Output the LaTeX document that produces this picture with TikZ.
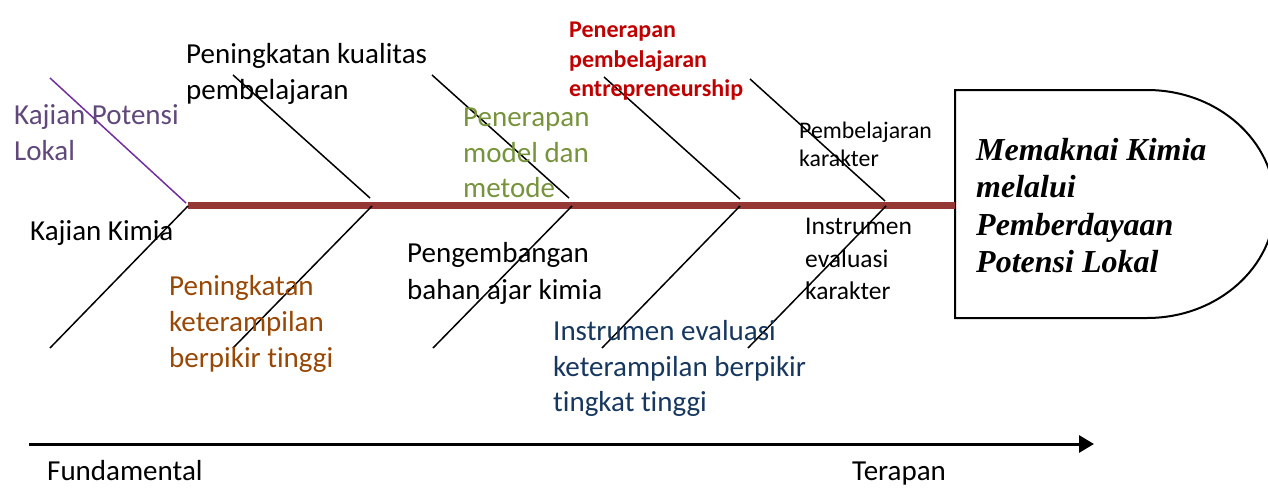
\documentclass[tikz,border=0pt]{standalone}
\usepackage{fontspec}
\setmainfont{Carlito}[Ligatures=NoCommon]
\newfontfamily\headfont{Liberation Serif}
\usetikzlibrary{arrows.meta}

\definecolor{spinered}{RGB}{149,55,53}
\definecolor{potpurple}{RGB}{96,73,122}
\definecolor{linepurple}{RGB}{112,48,160}
\definecolor{modgreen}{RGB}{119,147,60}
\definecolor{hotbrown}{RGB}{152,72,6}
\definecolor{evalnavy}{RGB}{23,55,94}
\definecolor{entred}{RGB}{192,0,0}

\tikzset{
  lbl/.style={anchor=north west, inner sep=0pt, align=left,
    execute at begin node=\strut},
  big/.style={font=\fontsize{29}{35.5}\selectfont},
  bone/.style={line width=1.5pt, black},
  spine/.style={line width=7pt, spinered},
}

\begin{document}
\begin{tikzpicture}[x=1pt, y=-1pt]
\useasboundingbox (0,0) rectangle (1268,487);

% --- head of the fish ---
\draw[line width=2pt] (1147,90) -- (955,90) -- (955,318) -- (1147,318)
  arc[start angle=-90, end angle=90, x radius=128pt, y radius=114pt];
\node[lbl, font=\headfont\bfseries\itshape\fontsize{32}{37.5}\selectfont]
  (head) at (976,138) {Memaknai Kimia\\melalui\\Pemberdayaan\\Potensi Lokal};

% --- spine ---
\coordinate (tail) at (188,205);
\coordinate (headL) at (955,205);
\draw[spine] (tail) -- (headL);

% --- bones ---
\coordinate (p0) at (50,78);    \coordinate (p1) at (186,203);
\draw[line width=1.5pt, linepurple] (p0) -- (p1);

\coordinate (b0a) at (50,348);  \coordinate (b0b) at (188,206);
\coordinate (t1a) at (233,75);  \coordinate (t1b) at (370,198);
\coordinate (b1a) at (233,348); \coordinate (b1b) at (372,206);
\coordinate (t2a) at (432,75);  \coordinate (t2b) at (569,198);
\coordinate (b2a) at (433,348); \coordinate (b2b) at (572,206);
\coordinate (t3a) at (604,77);  \coordinate (t3b) at (740,199);
\coordinate (b3a) at (602,348); \coordinate (b3b) at (740,206);
\coordinate (t4a) at (750,79);  \coordinate (t4b) at (885,201);
\coordinate (b4a) at (748,348); \coordinate (b4b) at (886,206);
\foreach \s in {b0,t1,b1,t2,b2,t3,b3,t4,b4}
  \draw[bone] (\s a) -- (\s b);

% --- labels ---
\node[lbl, big, text=potpurple] (kpl) at (14,104.5) {Kajian Potensi\\Lokal};
\node[lbl, big] (kk) at (30,215) {Kajian Kimia};
\node[lbl, big] (pkp) at (186,43.5) {Peningkatan kualitas\\pembelajaran};
\node[lbl, font=\fontsize{29}{36}\selectfont, text=hotbrown] (pkb) at (169,275)
  {Peningkatan\\keterampilan\\berpikir tinggi};
\node[lbl, big, text=modgreen] (pmm) at (463,108) {Penerapan\\model dan\\metode};
\node[lbl, font=\fontsize{29}{37}\selectfont] (pba) at (407,242.5)
  {Pengembangan\\bahan ajar kimia};
\node[lbl, big, text=evalnavy] (iek) at (553,320.5)
  {Instrumen evaluasi\\keterampilan berpikir\\tingkat tinggi};
\node[lbl, font=\bfseries\fontsize{24}{29.3}\selectfont, text=entred] (ppe) at (569,22)
  {Penerapan\\pembelajaran\\entrepreneurship};
\node[lbl, font=\fontsize{23.8}{28.5}\selectfont] (pk) at (799,121.5)
  {Pembelajaran\\karakter};
\node[lbl, font=\fontsize{25.5}{32.5}\selectfont] (iev) at (805,218)
  {Instrumen\\evaluasi\\karakter};

% --- axis from fundamental to applied ---
\coordinate (ax0) at (29,444);
\coordinate (ax1) at (1094,444);
\draw[line width=3pt, -{Triangle[length=15pt, width=17pt]}] (ax0) -- (ax1);
\node[lbl, big] (fund) at (47,455.5) {Fundamental};
\node[lbl, big] (ter) at (852,455.5) {Terapan};
\end{tikzpicture}
\end{document}
